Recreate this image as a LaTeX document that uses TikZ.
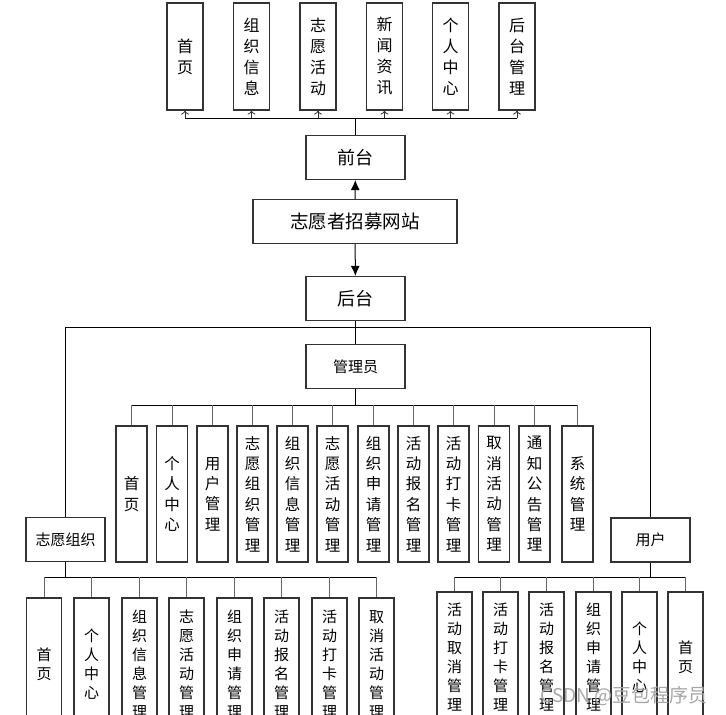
\documentclass[tikz,border=0pt]{standalone}
\usepackage{fontspec}
\setmainfont{Noto Sans CJK SC}
\usepackage{tikz}
\usetikzlibrary{arrows,arrows.meta}
\usetikzlibrary{positioning}
\tikzset{
    box/.style={draw=black!80, line width=1.1pt, fill=white, inner sep=0pt, align=center},
    topbox/.style={box, minimum width=36, minimum height=107, font=\fontsize{16}{21}\selectfont},
    adminbox/.style={box, minimum width=31, minimum height=136, font=\fontsize{15.5}{20.4}\selectfont},
    subbox/.style={box, minimum width=35, minimum height=133, font=\fontsize{15}{19}\selectfont},
    mainbox/.style={box, minimum width=99, minimum height=44, font=\fontsize{18}{20}\selectfont},
    rolebox/.style={box, minimum width=79, minimum height=44, font=\fontsize{15}{18}\selectfont},
    link/.style={draw=black, line width=1pt},
    drop/.style={draw=black!60, line width=1pt},
    up/.style={draw=black!80, line width=0.8pt, -{To[length=4pt,width=8pt]}},
    flow/.style={draw=black, line width=1pt, -{Latex[length=10pt,width=9pt]}},
}
\begin{document}
\begin{tikzpicture}[x=1pt, y=-1pt]
	\useasboundingbox (0,0) rectangle (726,715);
	\clip (0,0) rectangle (726,715);
	\node[mainbox] (qiantai) at (355.5,157.5) {前台};
	\node[mainbox, minimum width=204, font=\fontsize{18.5}{20}\selectfont] (site) at (355,221.5) {志愿者招募网站};
	\node[mainbox] (houtai) at (355.5,298.5) {后台};
	\node[rolebox, minimum width=99] (guanli) at (355.5,366.5) {管理员};
	\node[rolebox] (zyzz) at (65.5,539.5) {志愿组织};
	\node[rolebox] (yonghu) at (650.5,540) {用户};
	\draw[flow] (site) -- (qiantai);
	\draw[flow] (site) -- (houtai);
	% front end
	\node[topbox] (t1) at (185,56.5) {首\\页};
	\node[topbox] (t2) at (251.5,56.5) {组\\织\\信\\息};
	\node[topbox] (t3) at (318,56.5) {志\\愿\\活\\动};
	\node[topbox] (t4) at (384.5,56.5) {新\\闻\\资\\讯};
	\node[topbox] (t5) at (450.5,56.5) {个\\人\\中\\心};
	\node[topbox] (t6) at (517,56.5) {后\\台\\管\\理};
	\coordinate (tbus) at (355.5,118);
	\draw[link] (qiantai) -- (tbus);
	\draw[link] (t1 |- tbus) -- (t6 |- tbus);
	\draw[up] (t1 |- tbus) -- (t1);
	\draw[up] (t2 |- tbus) -- (t2);
	\draw[up] (t3 |- tbus) -- (t3);
	\draw[up] (t4 |- tbus) -- (t4);
	\draw[up] (t5 |- tbus) -- (t5);
	\draw[up] (t6 |- tbus) -- (t6);
	% back end
	\coordinate (hbus) at (355.5,327);
	\draw[link] (houtai) -- (guanli);
	\draw[link] (zyzz) -- (zyzz |- hbus) -- (yonghu |- hbus) -- (yonghu);
	\node[adminbox] (g1) at (131.5,494) {首\\页};
	\node[adminbox] (g2) at (172,494) {个\\人\\中\\心};
	\node[adminbox] (g3) at (212.5,494) {用\\户\\管\\理};
	\node[adminbox] (g4) at (252.5,494) {志\\愿\\组\\织\\管\\理};
	\node[adminbox] (g5) at (292.5,494) {组\\织\\信\\息\\管\\理};
	\node[adminbox] (g6) at (332.5,494) {志\\愿\\活\\动\\管\\理};
	\node[adminbox] (g7) at (373.5,494) {组\\织\\申\\请\\管\\理};
	\node[adminbox] (g8) at (413.5,494) {活\\动\\报\\名\\管\\理};
	\node[adminbox] (g9) at (453.5,494) {活\\动\\打\\卡\\管\\理};
	\node[adminbox] (g10) at (494,494) {取\\消\\活\\动\\管\\理};
	\node[adminbox] (g11) at (534.5,494) {通\\知\\公\\告\\管\\理};
	\node[adminbox] (g12) at (577.5,494) {系\\统\\管\\理};
	\coordinate (gbus) at (355.5,405);
	\draw[link] (guanli) -- (gbus);
	\draw[link] (g1 |- gbus) -- (g12 |- gbus);
	\draw[drop] (g1 |- gbus) -- (g1);
	\draw[drop] (g2 |- gbus) -- (g2);
	\draw[drop] (g3 |- gbus) -- (g3);
	\draw[drop] (g4 |- gbus) -- (g4);
	\draw[drop] (g5 |- gbus) -- (g5);
	\draw[drop] (g6 |- gbus) -- (g6);
	\draw[drop] (g7 |- gbus) -- (g7);
	\draw[drop] (g8 |- gbus) -- (g8);
	\draw[drop] (g9 |- gbus) -- (g9);
	\draw[drop] (g10 |- gbus) -- (g10);
	\draw[drop] (g11 |- gbus) -- (g11);
	\draw[drop] (g12 |- gbus) -- (g12);
	% organisation
	\node[subbox] (z1) at (44,664.5) {首\\页};
	\node[subbox] (z2) at (91.5,664.5) {个\\人\\中\\心};
	\node[subbox] (z3) at (139.5,664.5) {组\\织\\信\\息\\管\\理};
	\node[subbox] (z4) at (186.5,664.5) {志\\愿\\活\\动\\管\\理};
	\node[subbox] (z5) at (234.5,664.5) {组\\织\\申\\请\\管\\理};
	\node[subbox] (z6) at (281.5,664.5) {活\\动\\报\\名\\管\\理};
	\node[subbox] (z7) at (329.5,664.5) {活\\动\\打\\卡\\管\\理};
	\node[subbox] (z8) at (376.5,664.5) {取\\消\\活\\动\\管\\理};
	\coordinate (zbus) at (65.5,577);
	\draw[link] (zyzz) -- (zbus);
	\draw[link] (z1 |- zbus) -- (z8 |- zbus);
	\draw[drop] (z1 |- zbus) -- (z1);
	\draw[drop] (z2 |- zbus) -- (z2);
	\draw[drop] (z3 |- zbus) -- (z3);
	\draw[drop] (z4 |- zbus) -- (z4);
	\draw[drop] (z5 |- zbus) -- (z5);
	\draw[drop] (z6 |- zbus) -- (z6);
	\draw[drop] (z7 |- zbus) -- (z7);
	\draw[drop] (z8 |- zbus) -- (z8);
	% user
	\node[subbox, minimum height=130] (u1) at (454.5,657) {活\\动\\取\\消\\管\\理};
	\node[subbox, minimum height=130] (u2) at (500.5,657) {活\\动\\打\\卡\\管\\理};
	\node[subbox, minimum height=130] (u3) at (546.5,657) {活\\动\\报\\名\\管\\理};
	\node[subbox, minimum height=130] (u4) at (593.5,657) {组\\织\\申\\请\\管\\理};
	\node[subbox, minimum height=130] (u5) at (639.5,657) {个\\人\\中\\心};
	\node[subbox, minimum height=130] (u6) at (685.5,657) {首\\页};
	\coordinate (ubus) at (650.5,577);
	\draw[link] (yonghu) -- (ubus);
	\draw[link] (u1 |- ubus) -- (u6 |- ubus);
	\draw[drop] (u1 |- ubus) -- (u1);
	\draw[drop] (u2 |- ubus) -- (u2);
	\draw[drop] (u3 |- ubus) -- (u3);
	\draw[drop] (u4 |- ubus) -- (u4);
	\draw[drop] (u5 |- ubus) -- (u5);
	\draw[drop] (u6 |- ubus) -- (u6);
	\node[text=black!35, font=\fontsize{19}{20}\selectfont, inner sep=0pt] (mark) at (624,696) {CSDN @豆包程序员};
\end{tikzpicture}
\end{document}
